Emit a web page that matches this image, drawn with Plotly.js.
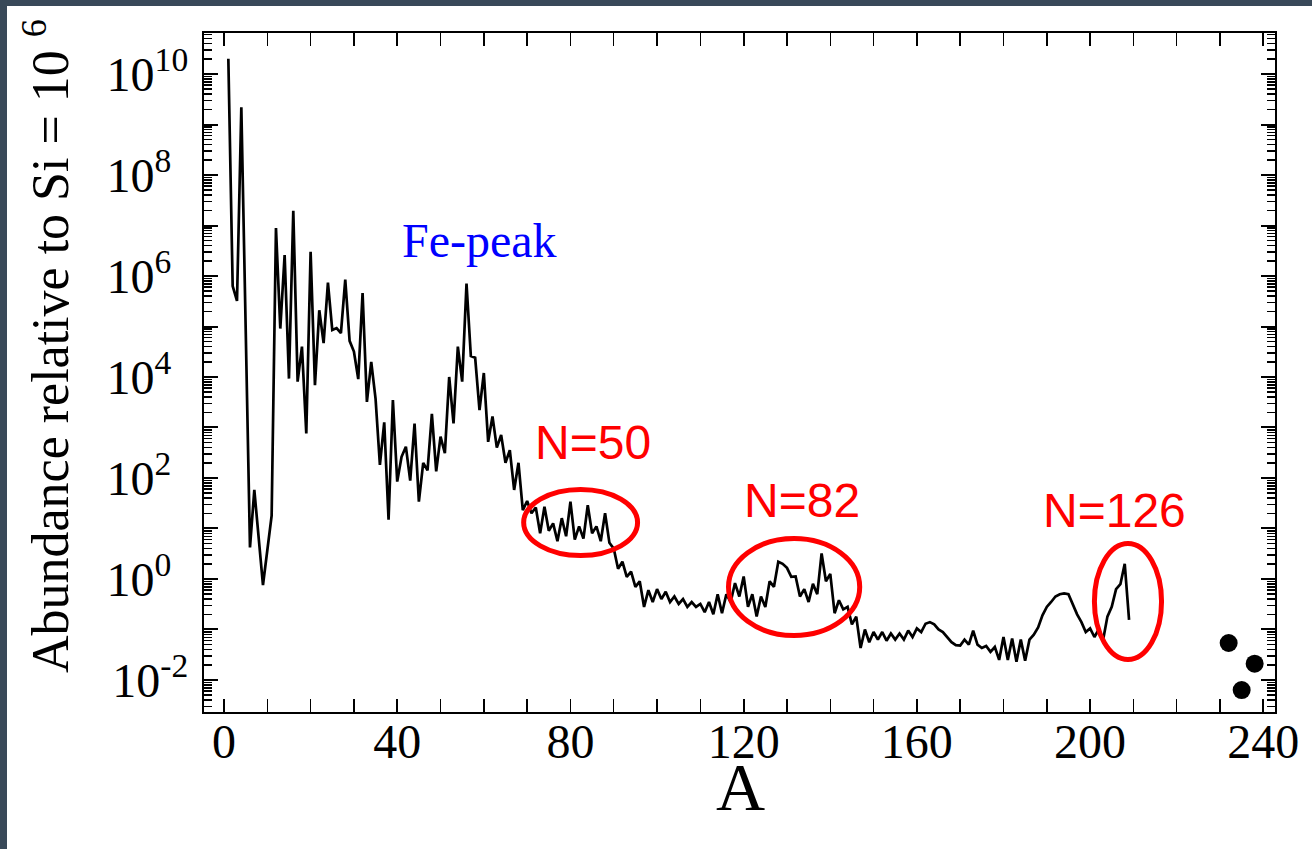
<!DOCTYPE html>
<html><head><meta charset="utf-8">
<script src="https://cdn.plot.ly/plotly-3.0.1.min.js"></script>
<style>
html,body{margin:0;padding:0;background:#394959;width:1312px;height:849px;overflow:hidden}
#chart{position:absolute;left:7px;top:6px;width:1305px;height:843px;background:#fff}
</style>
</head><body><div id="chart"></div>
<script>
// Mass number A and abundance (relative to Si = 1e6)
const massNumber = [1,2,3,4,6,7,9,10,11,12,13,14,15,16,17,18,19,20,21,22,23,24,25,26,27,28,29,30,31,32,33,34,35,36,37,38,39,40,
  41,42,43,44,45,46,47,48,49,50,51,52,53,54,55,56,57,58,59,60,61,62,63,64,65,66,67,68,69,70,
  71,72,73,74,75,76,77,78,79,80,81,82,83,84,85,86,87,88,89,90,91,92,93,94,95,96,97,98,99,100,
  101,102,103,104,105,106,107,108,109,110,111,112,113,114,115,116,117,118,119,120,121,122,123,124,125,126,127,128,129,130,
  131,132,133,134,135,136,137,138,139,140,141,142,143,144,145,146,147,148,149,150,151,152,153,154,155,156,157,158,159,160,
  161,162,163,164,165,166,167,168,169,170,171,172,173,174,175,176,177,178,179,180,181,182,183,184,185,186,187,188,189,190,
  191,192,193,194,195,196,197,198,199,200,201,202,203,204,205,206,207,208,209];
const abundance = [2.0e10,6.3e5,3.2e5,2.2e9,4.2,58,0.76,4.0,18,8.9e6,9.1e4,2.6e6,9.3e3,1.95e7,8.1e3,4.0e4,760,3.0e6,6.9e3,2.1e5,4.7e4,7.4e5,8.5e4,9.3e4,7.4e4,8.5e5,5.2e4,3.2e4,9.1e3,4.6e5,3.2e3,2.0e4,3.7e3,182,1.26e3,15,3.5e3,85,
  263,417,89,1.2e3,34,200,141,1.86e3,135,660,309,1.0e4,1.2e3,4.0e4,8.1e3,7.1e5,2.6e4,2.4e4,2.2e3,1.2e4,520,1.66e3,400,710,200,355,58,200,23,35,
  20,26,8,27,9,12.6,5.6,16,7,34,6,11,6.3,29,8,11,5.6,20,5.2,4.0,1.6,2.2,1.1,1.4,0.7,0.9,0.28,0.6,0.35,0.63,
  0.4,0.56,0.35,0.45,0.32,0.4,0.28,0.35,0.28,0.32,0.22,0.35,0.2,0.5,0.21,0.5,0.35,0.83,0.45,1.12,0.28,0.5,0.18,0.45,0.28,0.9,0.7,2.2,2.0,1.66,
  1.1,1.12,0.45,0.63,0.35,0.8,0.5,3.2,0.9,1.26,0.21,0.38,0.25,0.28,0.126,0.18,0.043,0.1,0.056,0.089,0.063,0.089,0.06,0.083,0.063,0.083,0.063,0.095,0.071,0.105,
  0.089,0.13,0.14,0.126,0.1,0.089,0.071,0.056,0.049,0.048,0.063,0.05,0.095,0.05,0.043,0.047,0.036,0.045,0.025,0.071,0.025,0.066,0.023,0.063,0.024,0.063,0.079,0.11,0.19,0.28,
  0.35,0.45,0.5,0.52,0.5,0.32,0.2,0.14,0.089,0.105,0.071,0.1,0.062,0.18,0.28,0.63,0.79,2.0,0.155];
// Th and U
const actinideA = [232, 235, 238];
const actinideAbundance = [0.054, 0.0063, 0.021];

const xTickVals = [0,40,80,120,160,200,240];
const yLabelVals = [1e-2,1,1e2,1e4,1e6,1e8,1e10];
const yLabelText = ['10<sup>-2</sup>','10<sup>0\u2007</sup>','10<sup>2\u2007</sup>','10<sup>4\u2007</sup>','10<sup>6\u2007</sup>','10<sup>8\u2007</sup>','10<sup>10</sup>'];
const yOddDecades = [1e-1,1e1,1e3,1e5,1e7,1e9];
const xTitle = 'A';
const yTitle = 'Abundance relative to Si = 10 <sup>6</sup>';

const serif = 'Liberation Serif, Times New Roman, serif';
const sans = 'Liberation Sans, Arial, sans-serif';

const traces = [
  {x: massNumber, y: abundance, type: 'scatter', mode: 'lines',
   line: {color: '#000', width: 2.7}, hoverinfo: 'x+y', showlegend: false},
  {x: actinideA, y: actinideAbundance, type: 'scatter', mode: 'markers', yaxis: 'y2',
   marker: {color: '#000', size: 18}, showlegend: false}
];

const yRange = [-2.634, 10.812];

const layout = {
  width: 1305, height: 843,
  paper_bgcolor: '#fff', plot_bgcolor: '#fff',
  margin: {l: 197, r: 37, t: 27, b: 137},
  showlegend: false,
  font: {family: serif, color: '#000'},
  xaxis: {
    range: [-4.62, 242.7], tickmode: 'array', tickvals: xTickVals,
    ticks: 'inside', ticklen: 13, tickwidth: 1.8, tickcolor: '#000',
    showline: true, linewidth: 2.2, linecolor: '#000', mirror: 'allticks',
    showgrid: false, zeroline: false,
    minor: {ticks: 'inside', ticklen: 8, tickwidth: 1.5, tickcolor: '#000', dtick: 10, tick0: 0, showgrid: false},
    tickfont: {family: serif, size: 48, color: '#000'},
    ticklabelstandoff: -14
  },
  yaxis: {
    type: 'log', range: yRange, tickmode: 'array', tickvals: yLabelVals, ticktext: yLabelText,
    ticks: 'inside', ticklen: 14, tickwidth: 2, tickcolor: '#000',
    showline: true, linewidth: 2.2, linecolor: '#000', mirror: 'allticks',
    showgrid: false, zeroline: false,
    minor: {ticks: 'inside', ticklen: 8, tickwidth: 1.5, tickcolor: '#000', dtick: 'D1', showgrid: false},
    tickfont: {family: serif, size: 48, color: '#000'},
    ticklabelstandoff: 4
  },
  yaxis2: {
    type: 'log', range: yRange, overlaying: 'y', side: 'left', anchor: 'x',
    tickmode: 'array', tickvals: yOddDecades, showticklabels: false,
    ticks: 'inside', ticklen: 14, tickwidth: 2, tickcolor: '#000',
    showline: true, linewidth: 2.2, linecolor: '#000', mirror: 'allticks',
    showgrid: false, zeroline: false
  },
  annotations: [
    {x: -0.1475, y: 0.539, xref: 'paper', yref: 'paper', text: yTitle, textangle: -90,
     showarrow: false, xanchor: 'center', yanchor: 'middle',
     font: {family: serif, size: 52, color: '#000'}},
    {x: 0.5014, y: -0.1105, xref: 'paper', yref: 'paper', text: xTitle,
     showarrow: false, xanchor: 'center', yanchor: 'middle',
     font: {family: serif, size: 68, color: '#000'}},
    {x: 59.1, y: 6.71, xref: 'x', yref: 'y', text: 'Fe-peak', showarrow: false,
     font: {family: serif, size: 48, color: '#0000ff'}},
    {x: 85.2, y: 2.70, xref: 'x', yref: 'y', text: 'N=50', showarrow: false,
     font: {family: sans, size: 48, color: '#ff0000'}},
    {x: 133.4, y: 1.56, xref: 'x', yref: 'y', text: 'N=82', showarrow: false,
     font: {family: sans, size: 48, color: '#ff0000'}},
    {x: 205.7, y: 1.35, xref: 'x', yref: 'y', text: 'N=126', showarrow: false,
     font: {family: sans, size: 48, color: '#ff0000'}}
  ],
  shapes: [
    {type: 'circle', xref: 'x', yref: 'y', x0: 69.2, x1: 95.5, y0: 2.92, y1: 59.2,
     line: {color: '#ff0000', width: 5}},
    {type: 'circle', xref: 'x', yref: 'y', x0: 116.5, x1: 146.8, y0: 0.076, y1: 6.34,
     line: {color: '#ff0000', width: 5}},
    {type: 'circle', xref: 'x', yref: 'y', x0: 201.0, x1: 216.5, y0: 0.0255, y1: 5.05,
     line: {color: '#ff0000', width: 5}}
  ]
};

Plotly.newPlot('chart', traces, layout, {displayModeBar: false, staticPlot: true});
</script>
</body></html>
